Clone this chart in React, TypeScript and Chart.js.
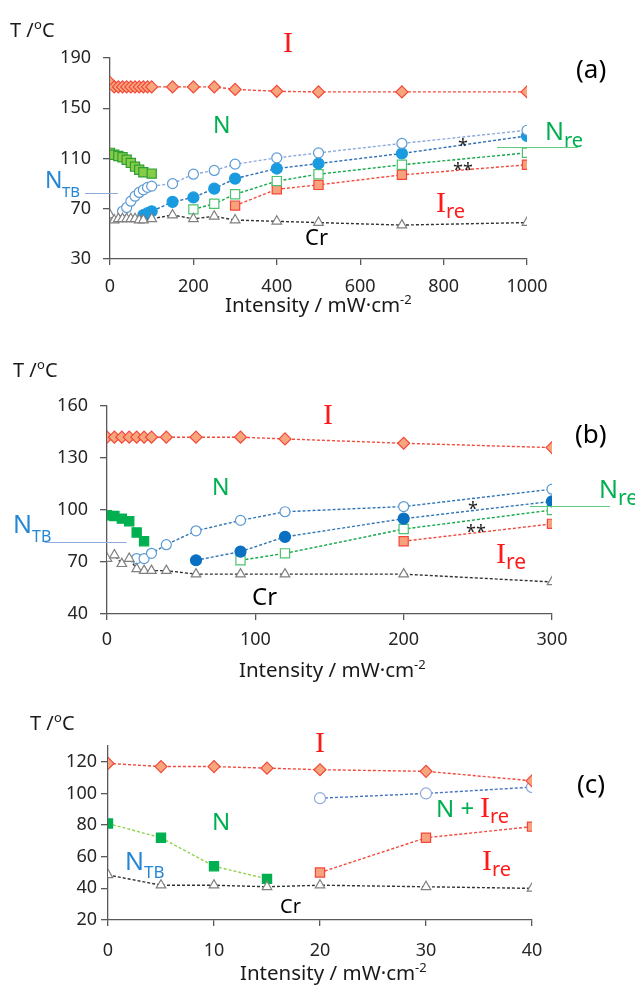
import React, { useEffect, useRef } from "react";
import { Chart, registerables } from "chart.js";
Chart.register(...registerables);

const SANS = "'Noto Sans', 'DejaVu Sans', sans-serif";
const SERIF = "'Liberation Serif', 'DejaVu Serif', serif";

// ---------- Panel (a) data ----------
const aTicksX = [0, 200, 400, 600, 800, 1000];
const aTicksY = [30, 70, 110, 150, 190];
const aIsoX = [0, 10, 20, 30, 40, 50, 60, 70, 80, 90, 100, 150, 200, 250, 300, 400, 500, 700, 1000];
const aIsoT = [170.5, 167, 167, 167, 167, 167, 167, 167, 167, 167, 167, 167, 167, 167, 165, 163.5, 163, 163, 163];
const aNtbX = [0, 10, 20, 30, 40, 50, 60, 70, 80, 100];
const aNtbT = [114.5, 113, 112, 111, 109, 106.5, 103.5, 101, 99, 98];
const aOpenCircX = [30, 40, 50, 60, 70, 80, 90, 100, 150, 200, 250, 300, 400, 500, 700, 1000];
const aOpenCircT = [68, 71, 76, 80, 83, 85, 87, 88, 90, 97.5, 100.5, 105.5, 110.5, 114.5, 122, 132.5];
const aFillCircX = [80, 90, 100, 150, 200, 250, 300, 400, 500, 700, 1000];
const aFillCircT = [65, 66.5, 68, 75.5, 79, 86, 94, 102, 106, 114, 128];
const aOpenSqX = [200, 250, 300, 400, 500, 700, 1000];
const aOpenSqT = [69.5, 74, 81.5, 92, 97.5, 105, 114.5];
const aIreX = [300, 400, 500, 700, 1000];
const aIreT = [72.5, 85.5, 89, 97, 105];
const aCrX = [0, 10, 20, 30, 40, 50, 60, 70, 80, 100, 150, 200, 250, 300, 400, 500, 700, 1000];
const aCrT = [65, 61, 62, 62, 62, 62, 62, 61, 61, 62, 65, 62, 64, 61, 60, 59, 57, 59];

// ---------- Panel (b) data ----------
const bTicksX = [0, 100, 200, 300];
const bTicksY = [40, 70, 100, 130, 160];
const bIsoX = [0, 5, 10, 15, 20, 25, 30, 40, 60, 90, 120, 200, 300];
const bIsoT = [142, 142, 142, 142, 142, 142, 142, 142, 142, 142, 141, 138.5, 136];
const bNtbX = [0, 5, 10, 15, 20, 25];
const bNtbT = [97, 96.5, 95, 93.5, 87, 82];
const bOpenCircX = [20, 25, 30, 40, 60, 90, 120, 200, 300];
const bOpenCircT = [72, 72, 75, 80, 88, 94, 99, 102, 112];
const bFillCircX = [60, 90, 120, 200, 300];
const bFillCircT = [71, 76, 84.5, 95, 105];
const bOpenSqX = [90, 120, 200, 300];
const bOpenSqT = [71, 75, 89, 100];
const bIreX = [200, 300];
const bIreT = [82, 92];
const bCrX = [0, 5, 10, 15, 20, 25, 30, 40, 60, 90, 120, 200, 300];
const bCrT = [72, 74, 69, 72, 66, 65, 65, 65, 63, 63, 63, 63, 58.5];

// ---------- Panel (c) data ----------
const cTicksX = [0, 10, 20, 30, 40];
const cTicksY = [20, 40, 60, 80, 100, 120];
const cIsoX = [0, 5, 10, 15, 20, 30, 40];
const cIsoT = [119, 117, 117, 116, 115, 114, 108];
const cNtbX = [0, 5, 10, 15];
const cNtbT = [81, 72, 54, 46];
const cOpenCircX = [20, 30, 40];
const cOpenCircT = [97, 100, 104];
const cIreX = [20, 30, 40];
const cIreT = [50, 72, 79];
const cCrX = [0, 5, 10, 15, 20, 30, 40];
const cCrT = [48.5, 42, 42, 41, 42, 41, 40];

// ---------- colours ----------
const RED_TXT = "#FF1A1A";
const GREEN_TXT = "#00B050";
const BLUE_TXT = "#2486D4";
const AXIS = "#595959";
const TICK_TXT = "#262626";

type Part = { s: string; size: number; serif?: boolean; dy?: number; color?: string };
type Note = { x: number; y: number; parts: Part[]; color?: string; align?: "left" | "center"; px?: boolean };
type Rule = { x1: number; x2: number; y: number; color: string };

function pts(xs: number[], ys: number[]) {
  return xs.map((x, i) => ({ x, y: ys[i] }));
}

function series(xs: number[], ys: number[], st: any) {
  return {
    data: pts(xs, ys),
    showLine: true,
    fill: false,
    borderDash: [3, 2],
    borderWidth: 1.4,
    tension: 0,
    pointBorderWidth: 1.2,
    ...st,
  };
}

const diamond = (line: string) => ({
  borderColor: line,
  pointStyle: "rectRot",
  pointRadius: 6,
  pointBackgroundColor: "#F6A67C",
  pointBorderColor: "#F4473A",
});
const redSquare = () => ({
  borderColor: "#F24A3D",
  pointStyle: "rect",
  pointRadius: 6.5,
  pointBackgroundColor: "#F7A27D",
  pointBorderColor: "#F4473A",
});
const triangle = () => ({
  borderColor: "#333333",
  pointStyle: "triangle",
  pointRadius: 5.5,
  pointBackgroundColor: "#FFFFFF",
  pointBorderColor: "#7F7F7F",
});

function notesPlugin(notes: Note[], rules: Rule[]) {
  return {
    id: "notes",
    afterDraw(chart: any) {
      const ctx = chart.ctx;
      const xs = chart.scales.x;
      const ys = chart.scales.y;
      ctx.save();
      for (const r of rules) {
        ctx.strokeStyle = r.color;
        ctx.lineWidth = 1.2;
        ctx.setLineDash([]);
        ctx.beginPath();
        const py = Math.round(ys.getPixelForValue(r.y)) + 0.5;
        ctx.moveTo(xs.getPixelForValue(r.x1), py);
        ctx.lineTo(xs.getPixelForValue(r.x2), py);
        ctx.stroke();
      }
      ctx.textBaseline = "alphabetic";
      ctx.textAlign = "left";
      for (const n of notes) {
        const px = n.px ? n.x : xs.getPixelForValue(n.x);
        const py = Math.round(n.px ? n.y : ys.getPixelForValue(n.y));
        let total = 0;
        const widths = n.parts.map((p) => {
          ctx.font = `${p.size}px ${p.serif ? SERIF : SANS}`;
          const w = ctx.measureText(p.s).width;
          total += w;
          return w;
        });
        let cx = n.align === "center" ? px - total / 2 : px;
        n.parts.forEach((p, i) => {
          ctx.font = `${p.size}px ${p.serif ? SERIF : SANS}`;
          ctx.fillStyle = p.color || n.color || "#000";
          ctx.fillText(p.s, Math.round(cx), py + (p.dy || 0));
          cx += widths[i];
        });
      }
      ctx.restore();
    },
  };
}

type Geo = {
  height: number;
  padTop: number;
  padRight: number;
  yWidth: number;
  xHeight: number;
  xMin: number;
  xMax: number;
  yMin: number;
  yMax: number;
  xTicks: number[];
  yTicks: number[];
  yTickPad: number;
  xTickPad: number;
};

function makeConfig(geo: Geo, datasets: any[], notes: Note[], rules: Rule[]) {
  const tickFont = { family: SANS, size: 18 };
  return {
    type: "scatter",
    data: { datasets },
    options: {
      animation: false,
      responsive: false,
      devicePixelRatio: 1,
      layout: { padding: { left: 0, right: geo.padRight, top: geo.padTop, bottom: 0 } },
      plugins: { legend: { display: false }, tooltip: { enabled: false } },
      scales: {
        x: {
          type: "linear",
          min: geo.xMin,
          max: geo.xMax,
          afterBuildTicks: (s: any) => {
            s.ticks = geo.xTicks.map((v) => ({ value: v }));
          },
          afterFit: (s: any) => {
            s.height = geo.xHeight;
          },
          ticks: {
            font: tickFont, color: TICK_TXT, padding: geo.xTickPad, maxRotation: 0, autoSkip: false,
            callback: (v: any) => String(v),
          },
          grid: { drawOnChartArea: false, drawTicks: true, tickLength: 6, color: AXIS, lineWidth: 1.3 },
          border: { display: true, color: AXIS, width: 1.3 },
        },
        y: {
          type: "linear",
          min: geo.yMin,
          max: geo.yMax,
          afterBuildTicks: (s: any) => {
            s.ticks = geo.yTicks.map((v) => ({ value: v }));
          },
          afterFit: (s: any) => {
            s.width = geo.yWidth;
          },
          ticks: {
            font: tickFont, color: TICK_TXT, padding: geo.yTickPad, autoSkip: false,
            callback: (v: any) => String(v),
          },
          grid: { drawOnChartArea: false, drawTicks: true, tickLength: 7, color: AXIS, lineWidth: 1.3 },
          border: { display: true, color: AXIS, width: 1.3 },
        },
      },
    },
    plugins: [notesPlugin(notes, rules)],
  };
}

const tLabel = (x: number, y: number): Note => ({
  x,
  y,
  px: true,
  color: "#1a1a1a",
  parts: [
    { s: "T /", size: 20 },
    { s: "o", size: 13, dy: -8 },
    { s: "C", size: 20 },
  ],
});
const xTitle = (x: number, y: number): Note => ({
  x,
  y,
  px: true,
  align: "center",
  color: "#1a1a1a",
  parts: [
    { s: "Intensity / mW·cm", size: 20.5 },
    { s: "-2", size: 13, dy: -8 },
  ],
});

// ---------- panel geometry ----------
const geoA: Geo = {
  height: 320, padTop: 58, padRight: 108, yWidth: 110, xHeight: 61,
  xMin: 0, xMax: 1000, yMin: 30, yMax: 190, xTicks: aTicksX, yTicks: aTicksY, yTickPad: 12, xTickPad: 11,
};
const geoB: Geo = {
  height: 365, padTop: 86, padRight: 83, yWidth: 107, xHeight: 71,
  xMin: 0, xMax: 300, yMin: 40, yMax: 160, xTicks: bTicksX, yTicks: bTicksY, yTickPad: 12, xTickPad: 9,
};
const geoC: Geo = {
  height: 301, padTop: 61, padRight: 103, yWidth: 108, xHeight: 66,
  xMin: 0, xMax: 40, yMin: 20, yMax: 130, xTicks: cTicksX, yTicks: cTicksY, yTickPad: 4, xTickPad: 14,
};

function configA() {
  const ds = [
    series(aCrX, aCrT, triangle()),
    series(aIsoX, aIsoT, diamond("#F24A3D")),
    series(aNtbX, aNtbT, {
      borderColor: "#92D050", pointStyle: "rect", pointRadius: 6.5,
      pointBackgroundColor: "#86CC47", pointBorderColor: "#2E9E35",
    }),
    series(aOpenCircX, aOpenCircT, {
      borderColor: "#8FAADC", pointStyle: "circle", pointRadius: 5,
      pointBackgroundColor: "#FFFFFF", pointBorderColor: "#5B9BD5",
    }),
    series(aFillCircX, aFillCircT, {
      borderColor: "#2E6FB7", pointStyle: "circle", pointRadius: 5.5,
      pointBackgroundColor: "#1A9BE0", pointBorderColor: "#1A9BE0",
    }),
    series(aOpenSqX, aOpenSqT, {
      borderColor: "#13A84A", pointStyle: "rect", pointRadius: 6.5,
      pointBackgroundColor: "#FFFFFF", pointBorderColor: "#4DC26E",
    }),
    series(aIreX, aIreT, redSquare()),
  ];
  const notes: Note[] = [
    tLabel(10, 37),
    xTitle(318, 312),
    { x: 427, y: 194.8, align: "center", color: RED_TXT, parts: [{ s: "I", size: 30, serif: true }] },
    { x: 1153, y: 174, align: "center", color: "#000", parts: [{ s: "(a)", size: 26 }] },
    { x: 267, y: 130.3, align: "center", color: GREEN_TXT, parts: [{ s: "N", size: 23 }] },
    { x: -156, y: 86.5, color: BLUE_TXT, parts: [{ s: "N", size: 23 }, { s: "TB", size: 15, dy: 9 }] },
    { x: 1043, y: 124.7, color: GREEN_TXT, parts: [{ s: "N", size: 25 }, { s: "re", size: 20, dy: 7 }] },
    { x: 782, y: 67.4, color: RED_TXT, parts: [{ s: "I", size: 30, serif: true }, { s: "re", size: 20, dy: 6 }] },
    { x: 467, y: 41.1, color: "#000", parts: [{ s: "Cr", size: 22 }] },
    { x: 846, y: 115.4, align: "center", color: "#222", parts: [{ s: "*", size: 18 }] },
    { x: 847, y: 96.3, align: "center", color: "#222", parts: [{ s: "**", size: 18 }] },
  ];
  const rules: Rule[] = [
    { x1: -60, x2: 19, y: 82.6, color: "#8FAADC" },
    { x1: 928, x2: 1122, y: 118.9, color: "#5CCB80" },
  ];
  return makeConfig(geoA, ds, notes, rules);
}

function configB() {
  const ds = [
    series(bCrX, bCrT, triangle()),
    series(bIsoX, bIsoT, diamond("#F24A3D")),
    series(bNtbX, bNtbT, {
      borderColor: "#92D050", pointStyle: "rect", pointRadius: 6.5,
      pointBackgroundColor: "#00B050", pointBorderColor: "#00B050",
    }),
    series(bOpenCircX, bOpenCircT, {
      borderColor: "#2E75B6", pointStyle: "circle", pointRadius: 5,
      pointBackgroundColor: "#FFFFFF", pointBorderColor: "#5B9BD5",
    }),
    series(bFillCircX, bFillCircT, {
      borderColor: "#2E75B6", pointStyle: "circle", pointRadius: 5.5,
      pointBackgroundColor: "#0A70C2", pointBorderColor: "#0A70C2",
    }),
    series(bOpenSqX, bOpenSqT, {
      borderColor: "#13A84A", pointStyle: "rect", pointRadius: 6.5,
      pointBackgroundColor: "#FFFFFF", pointBorderColor: "#4DC26E",
    }),
    series(bIreX, bIreT, redSquare()),
  ];
  const notes: Note[] = [
    tLabel(13, 57),
    xTitle(332, 357),
    { x: 149, y: 149.6, align: "center", color: RED_TXT, parts: [{ s: "I", size: 30, serif: true }] },
    { x: 326, y: 138.7, align: "center", color: "#000", parts: [{ s: "(b)", size: 26 }] },
    { x: 77, y: 108.7, align: "center", color: GREEN_TXT, parts: [{ s: "N", size: 23 }] },
    { x: -63.6, y: 86.8, color: BLUE_TXT, parts: [{ s: "N", size: 25 }, { s: "TB", size: 16, dy: 9 }] },
    { x: 332, y: 107, color: GREEN_TXT, parts: [{ s: "N", size: 25 }, { s: "re", size: 21, dy: 7 }] },
    { x: 262, y: 69.6, color: RED_TXT, parts: [{ s: "I", size: 30, serif: true }, { s: "re", size: 21, dy: 6 }] },
    { x: 97.6, y: 45.4, color: "#000", parts: [{ s: "Cr", size: 24 }] },
    { x: 247, y: 97.2, align: "center", color: "#222", parts: [{ s: "*", size: 18 }] },
    { x: 249, y: 83.8, align: "center", color: "#222", parts: [{ s: "**", size: 18 }] },
  ];
  const rules: Rule[] = [
    { x1: -42, x2: 13.3, y: 81.3, color: "#8FAADC" },
    { x1: 285, x2: 339, y: 102.4, color: "#5CCB80" },
  ];
  return makeConfig(geoB, ds, notes, rules);
}

function configC() {
  const ds = [
    series(cCrX, cCrT, triangle()),
    series(cIsoX, cIsoT, diamond("#F24A3D")),
    series(cNtbX, cNtbT, {
      borderColor: "#92D050", pointStyle: "rect", pointRadius: 6.5,
      pointBackgroundColor: "#00B050", pointBorderColor: "#00B050",
    }),
    series(cOpenCircX, cOpenCircT, {
      borderColor: "#4472C4", pointStyle: "circle", pointRadius: 5.5,
      pointBackgroundColor: "#FFFFFF", pointBorderColor: "#8FAADC",
    }),
    series(cIreX, cIreT, redSquare()),
  ];
  const notes: Note[] = [
    tLabel(30, 45),
    xTitle(333, 295),
    { x: 20, y: 126.1, align: "center", color: RED_TXT, parts: [{ s: "I", size: 30, serif: true }] },
    { x: 45.55, y: 100.2, align: "center", color: "#000", parts: [{ s: "(c)", size: 26 }] },
    { x: 10.7, y: 76.9, align: "center", color: GREEN_TXT, parts: [{ s: "N", size: 24 }] },
    {
      x: 30.9, y: 85.1, color: GREEN_TXT,
      parts: [
        { s: "N + ", size: 24 },
        { s: "I", size: 30, serif: true, color: RED_TXT },
        { s: "re", size: 20, dy: 6, color: RED_TXT },
      ],
    },
    { x: 35.26, y: 51.6, color: RED_TXT, parts: [{ s: "I", size: 30, serif: true }, { s: "re", size: 20, dy: 6 }] },
    { x: 1.58, y: 51.6, color: BLUE_TXT, parts: [{ s: "N", size: 25 }, { s: "TB", size: 17, dy: 8 }] },
    { x: 16.2, y: 24.4, color: "#000", parts: [{ s: "Cr", size: 20 }] },
  ];
  return makeConfig(geoC, ds, notes, []);
}

function Panel({ top, height, make }: { top: number; height: number; make: () => any }) {
  const ref = useRef<HTMLCanvasElement>(null);
  useEffect(() => {
    if (!ref.current) return;
    const chart = new Chart(ref.current, make());
    return () => chart.destroy();
  }, []);
  return (
    <canvas
      ref={ref}
      width={635}
      height={height}
      style={{ position: "absolute", left: 0, top, width: 635, height, display: "block" }}
    />
  );
}

export default function App() {
  return (
    <div style={{ position: "absolute", left: 0, top: 0, width: 635, height: 986, background: "#fff", overflow: "hidden" }}>
      <Panel top={0} height={geoA.height} make={configA} />
      <Panel top={320} height={geoB.height} make={configB} />
      <Panel top={685} height={geoC.height} make={configC} />
    </div>
  );
}
